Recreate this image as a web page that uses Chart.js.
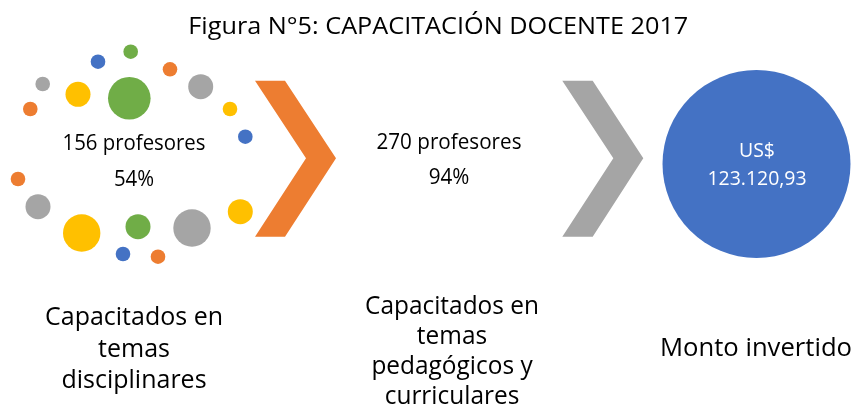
<!DOCTYPE html>
<html>
<head>
<meta charset="utf-8">
<title>Capacitación docente 2017</title>
<script src="https://cdn.jsdelivr.net/npm/chart.js@4"></script>
<style>
  body { margin: 0; background: #fff; }
  #chart { display: block; }
</style>
</head>
<body>
<canvas id="chart" width="856" height="406"></canvas>
<script>
// Decorative dots round the first figure (x, y in chart units, size = radius)
const dotX = [130.7, 98, 170, 42.7, 200.7, 78, 129.3, 30.3, 230, 245.3, 18, 38, 240.3, 81.7, 138, 192, 123, 158];
const dotY = [51.7, 61.7, 69.3, 84, 86.7, 94.3, 98.3, 109, 109, 136.7, 179, 206.7, 211.7, 233, 226.7, 228, 254, 256.7];
const dotSize = [7.3, 7.3, 7.3, 7.3, 12.5, 12.5, 21.3, 7.3, 7.3, 7.3, 7.3, 12.5, 12.5, 18.7, 12.5, 18.7, 7.3, 7.3];
const dotTone = ["green", "blue", "orange", "gray", "gray", "yellow", "green", "orange", "yellow", "blue",
  "orange", "gray", "yellow", "yellow", "green", "gray", "blue", "orange"];

// Chevron arrows (closed outlines)
const chevron1X = [255, 285, 336, 285, 255, 306, 255];
const chevron2X = [562.3, 592.7, 643.3, 592.7, 562.3, 613.3, 562.3];
const chevronY = [80.7, 80.7, 158.3, 236.7, 236.7, 158.3, 80.7];

// Amount circle
const montoCircle = { x: 756.5, y: 164, r: 94 };

// Text blocks: lines, centre x, baselines, font size, width of first line in the original
const titulo = "Figura N°5: CAPACITACIÓN DOCENTE 2017";
const bloques = [
  { lines: [titulo], x: 438.3, y: [34], size: 23.5, w: 500, color: "#000" },
  { lines: ["156 profesores", "54%"], x: 134, y: [150, 185.5], size: 21, w: 143, color: "#000" },
  { lines: ["270 profesores", "94%"], x: 449, y: [148.5, 183.5], size: 21, w: 145, color: "#000" },
  { lines: ["US$", "123.120,93"], x: 757, y: [157.3, 185], size: 20, w: 36, color: "#fff" },
  { lines: ["Capacitados en", "temas", "disciplinares"], x: 134, y: [325, 356.5, 387.5], size: 26, w: 178, color: "#000" },
  { lines: ["Capacitados en", "temas", "pedagógicos y", "curriculares"], x: 452, y: [313.5, 344, 374, 404], size: 26, w: 174, color: "#000" },
  { lines: ["Monto invertido"], x: 756, y: [356], size: 26, w: 192, color: "#000" },
];

const colores = {
  orange: "#ED7D31",
  gray: "#A5A5A5",
  yellow: "#FFC000",
  green: "#70AD47",
  blue: "#4472C4",
};
const FONT = "'Open Sans', 'Noto Sans', sans-serif";

const dotData = dotX.map((x, i) => ({ x, y: dotY[i], r: dotSize[i] }));
const toPoints = (xs, ys) => xs.map((x, i) => ({ x, y: ys[i] }));

// draws the texts at scale coordinates, squeezed/stretched to the original widths
const textPlugin = {
  id: "textos",
  afterDatasetsDraw(chart) {
    const { ctx, scales } = chart;
    ctx.save();
    ctx.textAlign = "center";
    ctx.textBaseline = "alphabetic";
    bloques.forEach((b) => {
      ctx.font = `${b.size}px ${FONT}`;
      const sx = b.w / ctx.measureText(b.lines[0]).width;
      ctx.fillStyle = b.color;
      b.lines.forEach((line, i) => {
        const px = scales.x.getPixelForValue(b.x);
        const py = scales.y.getPixelForValue(b.y[i]);
        ctx.save();
        ctx.translate(px, py);
        ctx.scale(sx, 1);
        ctx.fillText(line, 0, 0);
        ctx.restore();
      });
    });
    ctx.restore();
  },
};

const chevronDataset = (xs, color) => ({
  type: "scatter",
  data: toPoints(xs, chevronY),
  showLine: true,
  fill: "shape",
  backgroundColor: color,
  borderColor: color,
  borderWidth: 0,
  pointRadius: 0,
  tension: 0,
});

new Chart(document.getElementById("chart"), {
  type: "bubble",
  data: {
    datasets: [
      {
        data: dotData,
        backgroundColor: dotTone.map((c) => colores[c]),
        borderWidth: 0,
        clip: false,
      },
      {
        data: [montoCircle],
        backgroundColor: colores.blue,
        borderWidth: 0,
        clip: false,
      },
      chevronDataset(chevron1X, colores.orange),
      chevronDataset(chevron2X, colores.gray),
    ],
  },
  options: {
    responsive: false,
    devicePixelRatio: 1,
    animation: false,
    events: [],
    layout: { padding: 0, autoPadding: false },
    scales: {
      x: { type: "linear", min: 0, max: 856, display: false },
      y: { type: "linear", min: 0, max: 406, reverse: true, display: false },
    },
    plugins: {
      legend: { display: false },
      tooltip: { enabled: false },
    },
  },
  plugins: [textPlugin],
});
</script>
</body>
</html>
